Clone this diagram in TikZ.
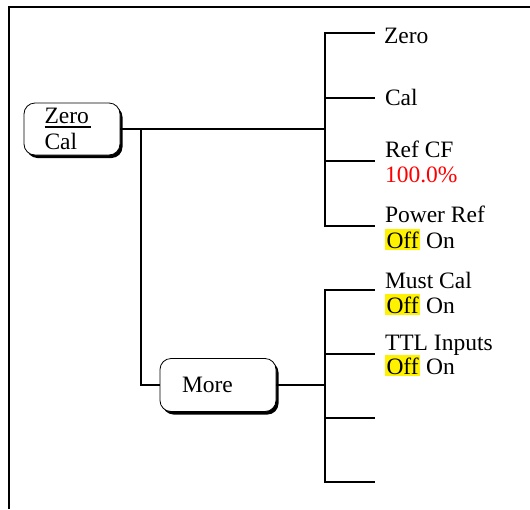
\documentclass[tikz,border=0pt]{standalone}
\usepackage{fontspec}
\setmainfont{Liberation Serif}
\usetikzlibrary{shadows}
\begin{document}
\begin{tikzpicture}[x=1pt,y=-1pt,line width=2pt,
  lbl/.style={anchor=base west,inner sep=0pt,font=\fontsize{23.5}{25}\selectfont},
  hl/.style={lbl,fill=yellow,inner xsep=1.5pt,inner ysep=0pt,text height=19pt,text depth=1.5pt},
  button/.style={draw,line width=0.8pt,fill=white,rounded corners=11pt,
    font=\fontsize{23.5}{25}\selectfont,inner sep=0pt,
    drop shadow={shadow xshift=2.5pt,shadow yshift=-3pt,fill=black,opacity=1,shadow scale=1}},
  redtxt/.style={lbl,text={rgb,255:red,255;green,0;blue,0}}]
\useasboundingbox (0,0) rectangle (530,509);
% frame
\draw (9,509) -- (9,7) -- (530,7);
% buttons
\node[button,minimum width=96pt,minimum height=52pt,text width=55pt,align=left] (zc) at (72,129)
  {\rlap{\rule[-4pt]{47pt}{1.6pt}}Zero\\[1pt]Cal};
\node[button,minimum width=116pt,minimum height=53pt,text width=72pt,align=left] (more) at (218,385) {More};
% junctions and branch ends
\coordinate (j1) at (325,129);
\coordinate (k) at (141,129);
\coordinate (j2) at (325,385);
\coordinate (t1) at (375,33);
\coordinate (t2) at (375,98);
\coordinate (t3) at (375,161);
\coordinate (t4) at (375,226);
\coordinate (u1) at (375,290);
\coordinate (u2) at (375,354);
\coordinate (u3) at (375,418);
\coordinate (u4) at (375,482);
% connectors
\draw (zc.east) -- (j1);
\draw (k) |- (more.west);
\draw (more.east) -- (j2);
\draw (t1) -- (t1 -| j1) -- (t4 -| j1) -- (t4);
\draw (t2 -| j1) -- (t2);
\draw (t3 -| j1) -- (t3);
\draw (u1) -- (u1 -| j2) -- (u4 -| j2) -- (u4);
\draw (u2 -| j2) -- (u2);
\draw (u3 -| j2) -- (u3);
% labels
\node[lbl] (zero) at (383,43) {Zero};
\node[lbl] (cal) at (384,105) {Cal};
\node[lbl] (refcf) at (384,157) {Ref CF};
\node[redtxt] (refval) at (384,182) {100.0\%};
\node[lbl] (pwr) at (384,222) {Power Ref};
\node[hl] (pwroff) at (384,248) {Off};
\node[lbl] (pwron) at ([xshift=4pt]pwroff.base east) {On};
\node[lbl] (must) at (384,288) {Must Cal};
\node[hl] (mustoff) at (384,313) {Off};
\node[lbl] (muston) at ([xshift=4pt]mustoff.base east) {On};
\node[lbl] (ttl) at (384,350) {TTL Inputs};
\node[hl] (ttloff) at (384,374) {Off};
\node[lbl] (ttlon) at ([xshift=4pt]ttloff.base east) {On};
\end{tikzpicture}
\end{document}
